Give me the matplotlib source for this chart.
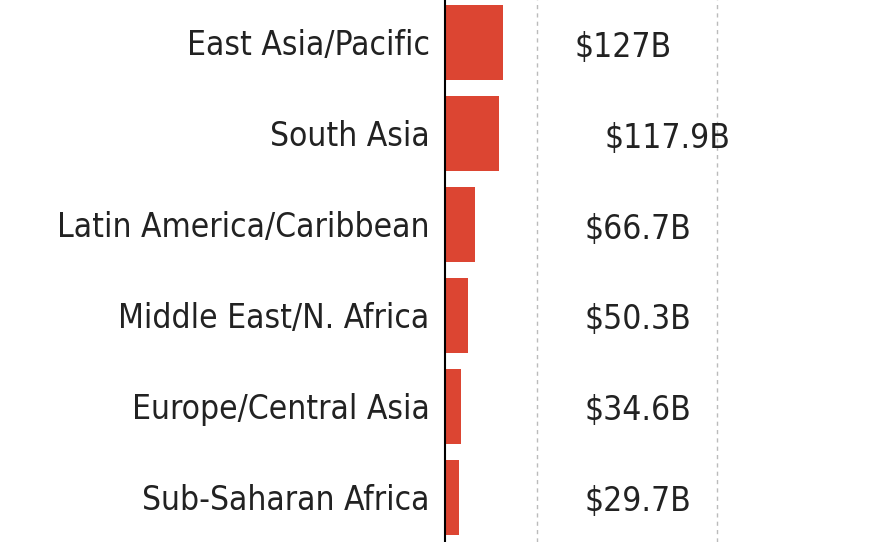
import matplotlib
matplotlib.use("Agg")
import matplotlib.pyplot as plt

regions = ["East Asia/Pacific", "South Asia", "Latin America/Caribbean",
           "Middle East/N. Africa", "Europe/Central Asia", "Sub-Saharan Africa"]
values = [127, 117.9, 66.7, 50.3, 34.6, 29.7]
labels = ["$127B", "$117.9B", "$66.7B", "$50.3B", "$34.6B", "$29.7B"]
label_x = [284, 350, 306, 306, 306, 306]
grid_x = [201, 595]

plt.rcParams['font.family'] = ['Liberation Sans Narrow', 'DejaVu Sans']
plt.rcParams['font.stretch'] = 'condensed'
fig = plt.figure(figsize=(8.8, 5.42), dpi=100)
ax = fig.add_axes([445/880, 0, 435/880, 1])
y = list(range(len(regions)))
ax.barh(y, values, height=0.82, color="#dc4532", zorder=2)
for g in grid_x:
    ax.axvline(g, color="#bbbbbb", ls=(0, (3, 3)), lw=1, zorder=1)
for yi, lx, t in zip(y, label_x, labels):
    ax.text(lx, yi + 0.05, t, fontsize=24, va="center", ha="left",
            color="#222222", fontstretch="condensed")
ax.set_xlim(0, 952)
ax.set_ylim(5.49, -0.467)
ax.set_yticks(y)
ax.set_yticklabels(regions, fontsize=24, color="#222222", fontstretch="condensed")
ax.tick_params(axis="y", length=0, pad=11)
ax.set_xticks([])
for s in ["top", "right", "bottom"]:
    ax.spines[s].set_visible(False)
ax.spines["left"].set_linewidth(1.5)
fig.savefig("out.png", dpi=100)
